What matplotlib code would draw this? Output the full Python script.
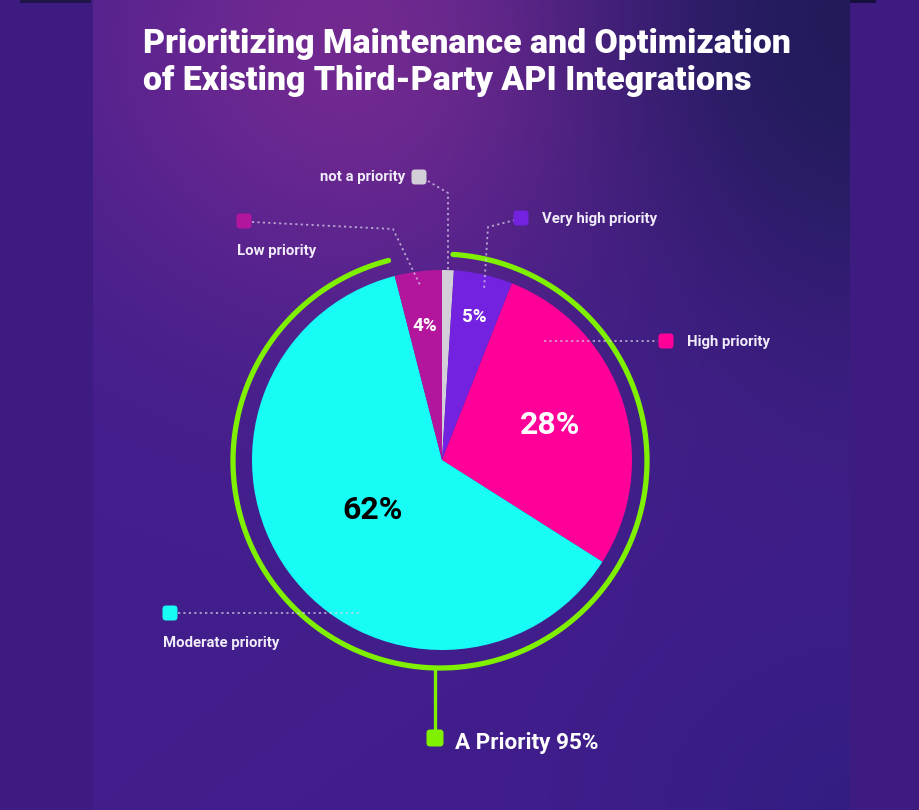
#---------------------------------------------------------------------------------------------------------------------------
# Pie chart: Prioritizing Maintenance and Optimization of Existing Third-Party API Integrations
#---------------------------------------------------------------------------------------------------------------------------
import numpy as np
import matplotlib
matplotlib.use("Agg")
import matplotlib.pyplot as plt
from matplotlib.patches import FancyBboxPatch
#---------------------------------------------------------------------------------------------------------------------------
# Data (clockwise from 12 o'clock)
categories = ["not a priority", "Very high priority", "High priority", "Moderate priority", "Low priority"]
shares = [1, 5, 28, 62, 4]
pct_labels = ["", "5%", "28%", "62%", "4%"]
slice_colors = ["#d3cfd8", "#7322e0", "#ff0099", "#17fdf5", "#b3169d"]
priority_total = 95
priority_cats = ["Very high priority", "High priority", "Moderate priority"]
title = "Prioritizing Maintenance and Optimization\nof Existing Third-Party API Integrations"
#---------------------------------------------------------------------------------------------------------------------------
W, H = 919, 810
plt.rcParams['font.family'] = ['Roboto', 'DejaVu Sans']

fig = plt.figure(figsize=(W / 100, H / 100), dpi=100)
ax = fig.add_axes([0, 0, 1, 1])

# Background: outer band + gradient panel
yy, xx = np.mgrid[0:H, 0:W].astype(float)
img = np.zeros((H, W, 3))
img[:] = np.array([61, 27, 128]) / 255
base = np.array([66, 30, 140]) / 255
glow = np.array([116, 42, 146]) / 255
dark = np.array([33, 27, 90]) / 255
dark2 = np.array([42, 29, 126]) / 255
g = np.exp(-(((xx - 370) / 300) ** 2 + ((yy - 40) / 270) ** 2))
d = np.exp(-(((xx - 860) / 270) ** 2 + ((yy - 20) / 320) ** 2))
d2 = 0.6 * np.exp(-(((xx - 860) / 250) ** 2 + ((yy - 810) / 200) ** 2))
panel = base * np.ones((H, W, 1))
panel = panel * (1 - g[..., None]) + glow * g[..., None]
panel = panel * (1 - d[..., None]) + dark * d[..., None]
panel = panel * (1 - d2[..., None]) + dark2 * d2[..., None]
px0, px1 = 93, 850
img[:, px0:px1] = panel[:, px0:px1]
img[0:3, 20:91] = np.array([30, 20, 70]) / 255
img[0:3, 850:876] = np.array([20, 15, 60]) / 255
ax.imshow(img, extent=[0, W, 0, H], origin='upper', zorder=0, aspect='auto')

# Title
ax.text(143, H - 28, title, color='white', fontsize=24.4, fontweight='heavy',
        ha='left', va='top', linespacing=1.2, zorder=5)

# Pie
cx, cy, r = 442, H - 460, 190
wedges, _ = ax.pie(shares, colors=slice_colors, startangle=90, counterclock=False,
                   center=(cx, cy), radius=r, frame=True,
                   wedgeprops=dict(linewidth=0))
ax.set_xlim(0, W)
ax.set_ylim(0, H)
ax.axis('off')

# Percent labels
label_r = [0, 0.77, 0.6, 0.45, 0.71]
label_fs = [0, 13.5, 23, 23, 13.5]
label_col = ['white', 'white', 'white', 'black', 'white']
for w, txt, fr, fs, c in zip(wedges, pct_labels, label_r, label_fs, label_col):
    if not txt:
        continue
    mid = np.deg2rad((w.theta1 + w.theta2) / 2)
    ax.text(cx + fr * r * np.cos(mid), cy + fr * r * np.sin(mid), txt, color=c,
            fontsize=fs, fontweight='bold', ha='center', va='center', zorder=5)

# Green ring around the "priority" slices
idx = [categories.index(c) for c in priority_cats]
t_start = wedges[idx[0]].theta2
t_end = wedges[idx[-1]].theta1
theta = np.deg2rad(np.linspace(t_start, t_end if t_end < t_start else t_end - 360, 400))
rr = 207
ax.plot(440 + rr * np.cos(theta), (H - 461) + rr * np.sin(theta), color='#7ff000',
        lw=3.8, solid_capstyle='round', zorder=4)
ax.plot([435, 435], [H - 668, H - 738], color='#7ff000', lw=2.4, zorder=4)


def marker(x, y, color, s=15):
    pad = 3.5
    ax.add_patch(FancyBboxPatch((x - s / 2 + pad, H - y - s / 2 + pad), s - 2 * pad, s - 2 * pad,
                                boxstyle=f'round,pad={pad}', fc=color, ec='none', zorder=6))


def leader(pts):
    xs = [p[0] for p in pts]
    ys = [H - p[1] for p in pts]
    ax.plot(xs, ys, color='#d8d0ea', alpha=0.75, lw=1.3, ls=(0, (1.2, 1.8)), zorder=5)


marker(435, 738, '#7ff000', s=17)
ax.text(455, H - 743, f"A Priority {priority_total}%", color='white', fontsize=16.2,
        fontweight='bold', ha='left', va='center', zorder=6)

# Category callouts
lab_fs = 10.7
# not a priority
leader([(428, 181), (448, 193), (448, 285)])
marker(419, 177, slice_colors[0])
ax.text(405, H - 177, categories[0], color='#f0ecf8', fontsize=lab_fs, fontweight='bold',
        ha='right', va='center', zorder=6)
# very high priority
leader([(515, 220), (488, 227), (484, 290)])
marker(521, 218, slice_colors[1])
ax.text(542, H - 219, categories[1], color='#f0ecf8', fontsize=lab_fs, fontweight='bold',
        ha='left', va='center', zorder=6)
# high priority
leader([(544, 341), (658, 341)])
marker(666, 341, slice_colors[2])
ax.text(687, H - 342, categories[2], color='#f0ecf8', fontsize=lab_fs, fontweight='bold',
        ha='left', va='center', zorder=6)
# moderate priority
leader([(178, 613), (360, 613)])
marker(170, 613, slice_colors[3])
ax.text(163, H - 643, categories[3], color='#f0ecf8', fontsize=lab_fs, fontweight='bold',
        ha='left', va='center', zorder=6)
# low priority
leader([(252, 222), (393, 229), (420, 285)])
marker(244, 221, slice_colors[4])
ax.text(237, H - 251, categories[4], color='#f0ecf8', fontsize=lab_fs, fontweight='bold',
        ha='left', va='center', zorder=6)

plt.savefig('out.png', dpi=100)
